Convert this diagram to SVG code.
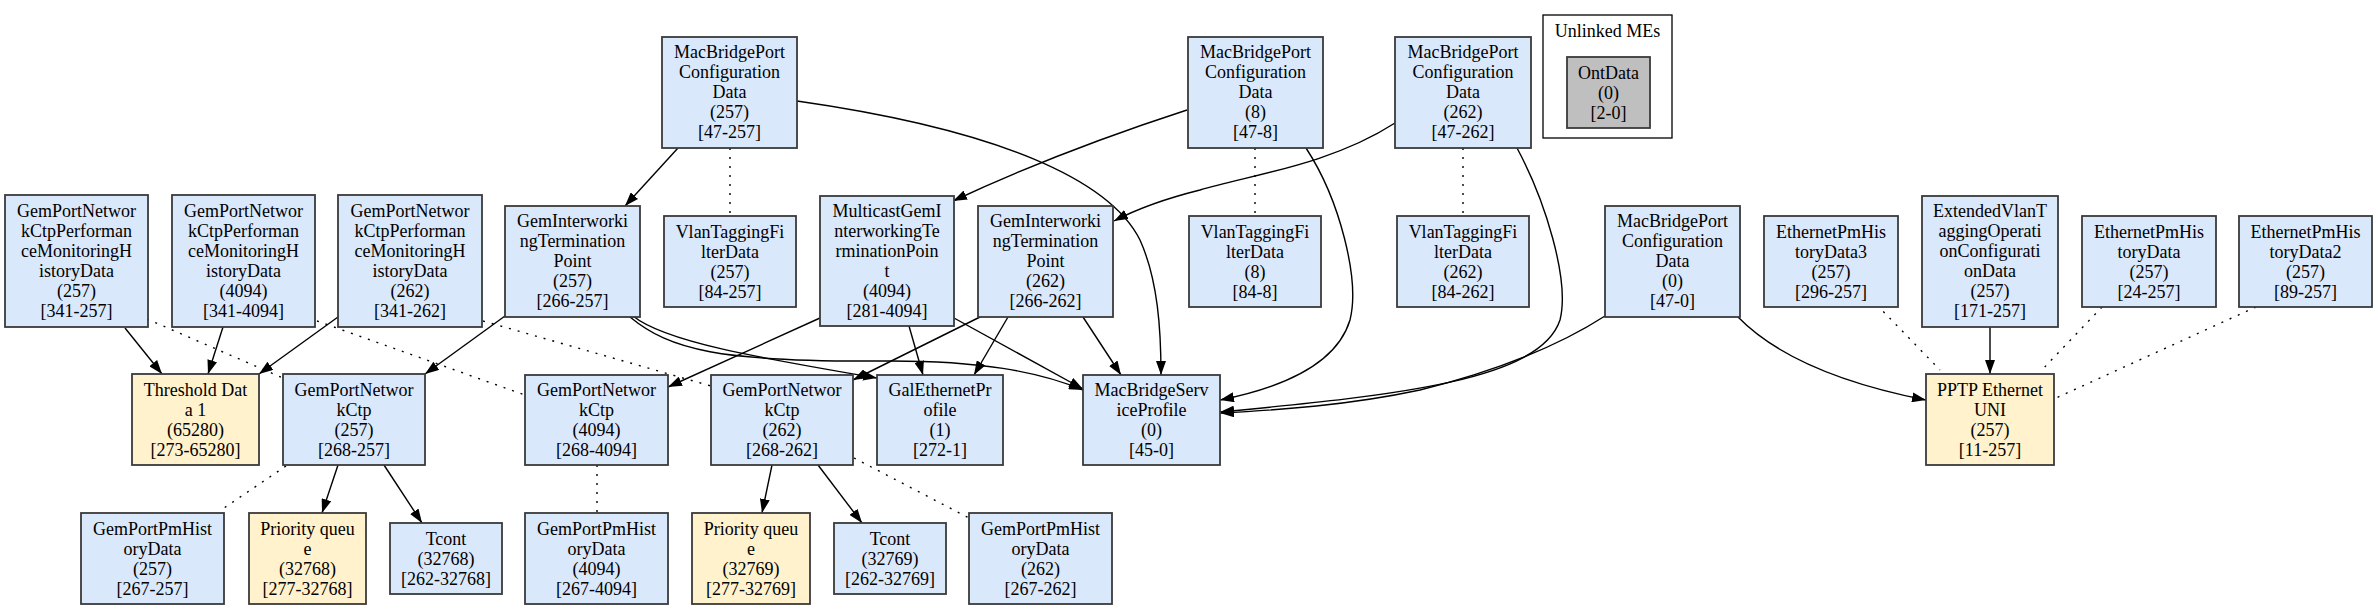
<svg xmlns="http://www.w3.org/2000/svg" width="2378" height="609" viewBox="0 0 2378 609">
<style>
.n rect{stroke:#3a3a3a;stroke-width:1.8}
.b rect{fill:#dae8fc}
.y rect{fill:#fff2cc}
.g rect{fill:#bfbfbf}
text{font-family:"Liberation Serif","Times New Roman",serif;font-size:18px;fill:#000;text-anchor:middle}
.e path{fill:none;stroke:#000;stroke-width:1.4}
.e .a{marker-end:url(#arr)}
.e .d{stroke-dasharray:2 7}
</style>
<defs>
<marker id="arr" viewBox="0 0 14 10" refX="14" refY="5" markerUnits="userSpaceOnUse" markerWidth="14" markerHeight="10" orient="auto">
<path d="M0,0 L14,5 L0,10 z" fill="#000"/>
</marker>
</defs>
<rect width="2378" height="609" fill="#fff"/>
<g id="cluster_unlinked">
<rect x="1543" y="15" width="129" height="123" fill="none" stroke="#000" stroke-width="1.3"/>
<text x="1607.5" y="37">Unlinked MEs</text>
</g>
<g class="e" id="connectors">
<path class="a" d="M125,328 L162,374"/>
<path class="a" d="M223,327 L208,374"/>
<path class="a" d="M338,317 L259,374"/>
<path class="d" d="M147,319 L283,378"/>
<path class="d" d="M317,321 L525,395"/>
<path class="d" d="M483,321 L711,386"/>
<path class="a" d="M505,316 L425,374"/>
<path class="a" d="M633,316 C665,342 760,358 877,378"/>
<path class="a" d="M630,317 C670,350 720,362 880,361 C980,360 1040,372 1083,390"/>
<path class="a" d="M820,318 L668,387"/>
<path class="a" d="M909,326 L923,375"/>
<path class="a" d="M954,318 L1083,389"/>
<path class="a" d="M980,317 L853,380"/>
<path class="a" d="M1008,317 L974,375"/>
<path class="a" d="M1083,317 L1121,375"/>
<path class="a" d="M678,148 L625,206"/>
<path class="d" d="M730,148 L730,216"/>
<path class="a" d="M797,101 C1000,130 1110,180 1140,240 C1158,280 1161,330 1161,375"/>
<path class="a" d="M1187,110 C1110,135 1030,165 953,201"/>
<path class="d" d="M1255,148 L1255,216"/>
<path class="a" d="M1306,148 C1340,200 1360,280 1350,320 C1335,370 1270,390 1220,400"/>
<path class="a" d="M1395,123 C1330,165 1250,175 1200,190 C1160,200 1135,210 1114,221"/>
<path class="d" d="M1463,148 L1463,216"/>
<path class="a" d="M1517,148 C1545,200 1570,280 1560,320 C1540,380 1400,395 1220,412"/>
<path class="a" d="M1605,316 C1560,345 1500,370 1420,390 C1350,405 1280,410 1220,413"/>
<path class="a" d="M1738,317 C1780,360 1850,385 1926,400"/>
<path class="d" d="M1877,305 L1940,370"/>
<path class="a" d="M1990,327 L1990,374"/>
<path class="d" d="M2102,307 L2040,372"/>
<path class="d" d="M2256,307 L2056,398"/>
<path class="d" d="M286,466 L224,508"/>
<path class="a" d="M338,465 L322,513"/>
<path class="a" d="M384,465 L422,523"/>
<path class="d" d="M597,465 L597,513"/>
<path class="a" d="M772,465 L762,513"/>
<path class="a" d="M818,465 L862,523"/>
<path class="d" d="M854,458 L969,518"/>
</g>
<g id="gpnc_pmhd_257" class="n b"><rect x="5" y="195" width="143" height="132"/><text x="76.5"><tspan x="76.5" y="217">GemPortNetwor</tspan><tspan x="76.5" y="237">kCtpPerforman</tspan><tspan x="76.5" y="257">ceMonitoringH</tspan><tspan x="76.5" y="277">istoryData</tspan><tspan x="76.5" y="297">(257)</tspan><tspan x="76.5" y="317">[341-257]</tspan></text></g>
<g id="gpnc_pmhd_4094" class="n b"><rect x="172" y="195" width="143" height="132"/><text x="243.5"><tspan x="243.5" y="217">GemPortNetwor</tspan><tspan x="243.5" y="237">kCtpPerforman</tspan><tspan x="243.5" y="257">ceMonitoringH</tspan><tspan x="243.5" y="277">istoryData</tspan><tspan x="243.5" y="297">(4094)</tspan><tspan x="243.5" y="317">[341-4094]</tspan></text></g>
<g id="gpnc_pmhd_262" class="n b"><rect x="338" y="195" width="144" height="132"/><text x="410"><tspan x="410" y="217">GemPortNetwor</tspan><tspan x="410" y="237">kCtpPerforman</tspan><tspan x="410" y="257">ceMonitoringH</tspan><tspan x="410" y="277">istoryData</tspan><tspan x="410" y="297">(262)</tspan><tspan x="410" y="317">[341-262]</tspan></text></g>
<g id="threshold_65280" class="n y"><rect x="132" y="374" width="127" height="91"/><text x="195.5"><tspan x="195.5" y="396">Threshold Dat</tspan><tspan x="195.5" y="416">a 1</tspan><tspan x="195.5" y="436">(65280)</tspan><tspan x="195.5" y="456">[273-65280]</tspan></text></g>
<g id="gpnc_257" class="n b"><rect x="283" y="374" width="142" height="91"/><text x="354"><tspan x="354" y="396">GemPortNetwor</tspan><tspan x="354" y="416">kCtp</tspan><tspan x="354" y="436">(257)</tspan><tspan x="354" y="456">[268-257]</tspan></text></g>
<g id="gpnc_4094" class="n b"><rect x="525" y="375" width="143" height="90"/><text x="596.5"><tspan x="596.5" y="396">GemPortNetwor</tspan><tspan x="596.5" y="416">kCtp</tspan><tspan x="596.5" y="436">(4094)</tspan><tspan x="596.5" y="456">[268-4094]</tspan></text></g>
<g id="gpnc_262" class="n b"><rect x="711" y="375" width="142" height="90"/><text x="782"><tspan x="782" y="396">GemPortNetwor</tspan><tspan x="782" y="416">kCtp</tspan><tspan x="782" y="436">(262)</tspan><tspan x="782" y="456">[268-262]</tspan></text></g>
<g id="gal_eth_1" class="n b"><rect x="877" y="375" width="126" height="90"/><text x="940"><tspan x="940" y="396">GalEthernetPr</tspan><tspan x="940" y="416">ofile</tspan><tspan x="940" y="436">(1)</tspan><tspan x="940" y="456">[272-1]</tspan></text></g>
<g id="mbsp_0" class="n b"><rect x="1083" y="375" width="137" height="90"/><text x="1151.5"><tspan x="1151.5" y="396">MacBridgeServ</tspan><tspan x="1151.5" y="416">iceProfile</tspan><tspan x="1151.5" y="436">(0)</tspan><tspan x="1151.5" y="456">[45-0]</tspan></text></g>
<g id="gppmhd_257" class="n b"><rect x="81" y="513" width="143" height="91"/><text x="152.5"><tspan x="152.5" y="535">GemPortPmHist</tspan><tspan x="152.5" y="555">oryData</tspan><tspan x="152.5" y="575">(257)</tspan><tspan x="152.5" y="595">[267-257]</tspan></text></g>
<g id="pq_32768" class="n y"><rect x="249" y="513" width="117" height="91"/><text x="307.5"><tspan x="307.5" y="535">Priority queu</tspan><tspan x="307.5" y="555">e</tspan><tspan x="307.5" y="575">(32768)</tspan><tspan x="307.5" y="595">[277-32768]</tspan></text></g>
<g id="tcont_32768" class="n b"><rect x="390" y="523" width="112" height="71"/><text x="446"><tspan x="446" y="545">Tcont</tspan><tspan x="446" y="565">(32768)</tspan><tspan x="446" y="585">[262-32768]</tspan></text></g>
<g id="gppmhd_4094" class="n b"><rect x="525" y="513" width="143" height="91"/><text x="596.5"><tspan x="596.5" y="535">GemPortPmHist</tspan><tspan x="596.5" y="555">oryData</tspan><tspan x="596.5" y="575">(4094)</tspan><tspan x="596.5" y="595">[267-4094]</tspan></text></g>
<g id="pq_32769" class="n y"><rect x="692" y="513" width="118" height="91"/><text x="751"><tspan x="751" y="535">Priority queu</tspan><tspan x="751" y="555">e</tspan><tspan x="751" y="575">(32769)</tspan><tspan x="751" y="595">[277-32769]</tspan></text></g>
<g id="tcont_32769" class="n b"><rect x="834" y="523" width="112" height="71"/><text x="890"><tspan x="890" y="545">Tcont</tspan><tspan x="890" y="565">(32769)</tspan><tspan x="890" y="585">[262-32769]</tspan></text></g>
<g id="gppmhd_262" class="n b"><rect x="969" y="513" width="143" height="91"/><text x="1040.5"><tspan x="1040.5" y="535">GemPortPmHist</tspan><tspan x="1040.5" y="555">oryData</tspan><tspan x="1040.5" y="575">(262)</tspan><tspan x="1040.5" y="595">[267-262]</tspan></text></g>
<g id="mbpcd_257" class="n b"><rect x="662" y="37" width="135" height="111"/><text x="729.5"><tspan x="729.5" y="58">MacBridgePort</tspan><tspan x="729.5" y="78">Configuration</tspan><tspan x="729.5" y="98">Data</tspan><tspan x="729.5" y="118">(257)</tspan><tspan x="729.5" y="138">[47-257]</tspan></text></g>
<g id="giwtp_257" class="n b"><rect x="505" y="206" width="135" height="111"/><text x="572.5"><tspan x="572.5" y="227">GemInterworki</tspan><tspan x="572.5" y="247">ngTermination</tspan><tspan x="572.5" y="267">Point</tspan><tspan x="572.5" y="287">(257)</tspan><tspan x="572.5" y="307">[266-257]</tspan></text></g>
<g id="vtfd_257" class="n b"><rect x="664" y="216" width="132" height="91"/><text x="730"><tspan x="730" y="238">VlanTaggingFi</tspan><tspan x="730" y="258">lterData</tspan><tspan x="730" y="278">(257)</tspan><tspan x="730" y="298">[84-257]</tspan></text></g>
<g id="mgiwtp_4094" class="n b"><rect x="820" y="196" width="134" height="130"/><text x="887"><tspan x="887" y="217">MulticastGemI</tspan><tspan x="887" y="237">nterworkingTe</tspan><tspan x="887" y="257">rminationPoin</tspan><tspan x="887" y="277">t</tspan><tspan x="887" y="297">(4094)</tspan><tspan x="887" y="317">[281-4094]</tspan></text></g>
<g id="giwtp_262" class="n b"><rect x="978" y="206" width="135" height="111"/><text x="1045.5"><tspan x="1045.5" y="227">GemInterworki</tspan><tspan x="1045.5" y="247">ngTermination</tspan><tspan x="1045.5" y="267">Point</tspan><tspan x="1045.5" y="287">(262)</tspan><tspan x="1045.5" y="307">[266-262]</tspan></text></g>
<g id="mbpcd_8" class="n b"><rect x="1188" y="37" width="135" height="111"/><text x="1255.5"><tspan x="1255.5" y="58">MacBridgePort</tspan><tspan x="1255.5" y="78">Configuration</tspan><tspan x="1255.5" y="98">Data</tspan><tspan x="1255.5" y="118">(8)</tspan><tspan x="1255.5" y="138">[47-8]</tspan></text></g>
<g id="vtfd_8" class="n b"><rect x="1189" y="216" width="132" height="91"/><text x="1255"><tspan x="1255" y="238">VlanTaggingFi</tspan><tspan x="1255" y="258">lterData</tspan><tspan x="1255" y="278">(8)</tspan><tspan x="1255" y="298">[84-8]</tspan></text></g>
<g id="mbpcd_262" class="n b"><rect x="1395" y="37" width="136" height="111"/><text x="1463"><tspan x="1463" y="58">MacBridgePort</tspan><tspan x="1463" y="78">Configuration</tspan><tspan x="1463" y="98">Data</tspan><tspan x="1463" y="118">(262)</tspan><tspan x="1463" y="138">[47-262]</tspan></text></g>
<g id="vtfd_262" class="n b"><rect x="1397" y="216" width="132" height="91"/><text x="1463"><tspan x="1463" y="238">VlanTaggingFi</tspan><tspan x="1463" y="258">lterData</tspan><tspan x="1463" y="278">(262)</tspan><tspan x="1463" y="298">[84-262]</tspan></text></g>
<g id="mbpcd_0" class="n b"><rect x="1605" y="206" width="135" height="111"/><text x="1672.5"><tspan x="1672.5" y="227">MacBridgePort</tspan><tspan x="1672.5" y="247">Configuration</tspan><tspan x="1672.5" y="267">Data</tspan><tspan x="1672.5" y="287">(0)</tspan><tspan x="1672.5" y="307">[47-0]</tspan></text></g>
<g id="ephd3_257" class="n b"><rect x="1764" y="216" width="134" height="91"/><text x="1831"><tspan x="1831" y="238">EthernetPmHis</tspan><tspan x="1831" y="258">toryData3</tspan><tspan x="1831" y="278">(257)</tspan><tspan x="1831" y="298">[296-257]</tspan></text></g>
<g id="evtocd_257" class="n b"><rect x="1922" y="196" width="136" height="131"/><text x="1990"><tspan x="1990" y="217">ExtendedVlanT</tspan><tspan x="1990" y="237">aggingOperati</tspan><tspan x="1990" y="257">onConfigurati</tspan><tspan x="1990" y="277">onData</tspan><tspan x="1990" y="297">(257)</tspan><tspan x="1990" y="317">[171-257]</tspan></text></g>
<g id="ephd_257" class="n b"><rect x="2082" y="216" width="134" height="91"/><text x="2149"><tspan x="2149" y="238">EthernetPmHis</tspan><tspan x="2149" y="258">toryData</tspan><tspan x="2149" y="278">(257)</tspan><tspan x="2149" y="298">[24-257]</tspan></text></g>
<g id="ephd2_257" class="n b"><rect x="2239" y="216" width="133" height="91"/><text x="2305.5"><tspan x="2305.5" y="238">EthernetPmHis</tspan><tspan x="2305.5" y="258">toryData2</tspan><tspan x="2305.5" y="278">(257)</tspan><tspan x="2305.5" y="298">[89-257]</tspan></text></g>
<g id="pptp_257" class="n y"><rect x="1926" y="374" width="128" height="91"/><text x="1990"><tspan x="1990" y="396">PPTP Ethernet</tspan><tspan x="1990" y="416">UNI</tspan><tspan x="1990" y="436">(257)</tspan><tspan x="1990" y="456">[11-257]</tspan></text></g>
<g id="ontdata_0" class="n g"><rect x="1567" y="57" width="83" height="71"/><text x="1608.5"><tspan x="1608.5" y="79">OntData</tspan><tspan x="1608.5" y="99">(0)</tspan><tspan x="1608.5" y="119">[2-0]</tspan></text></g>
</svg>
